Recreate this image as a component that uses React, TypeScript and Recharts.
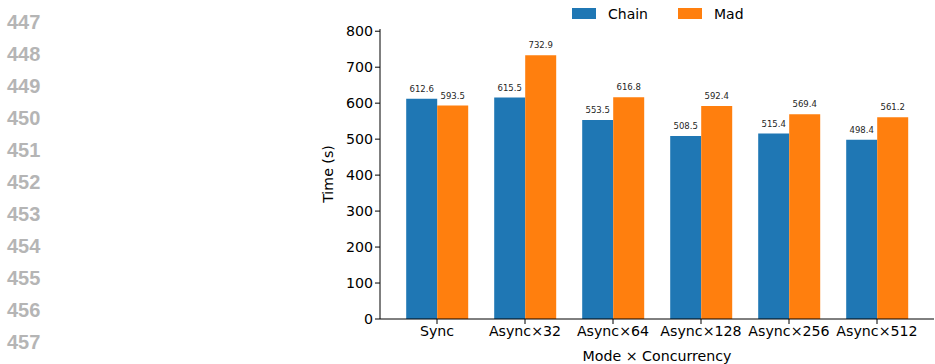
import React from "react";
import { BarChart, Bar, XAxis, YAxis, LabelList } from "recharts";

const categories = ["Sync", "Async×32", "Async×64", "Async×128", "Async×256", "Async×512"];
const chainTimes = [612.6, 615.5, 553.5, 508.5, 515.4, 498.4];
const madTimes = [593.5, 732.9, 616.8, 592.4, 569.4, 561.2];
const yTicks = [0, 100, 200, 300, 400, 500, 600, 700, 800];
const lineNumbers = [447, 448, 449, 450, 451, 452, 453, 454, 455, 456, 457];

const CHAIN_COLOR = "#1f77b4";
const MAD_COLOR = "#ff7f0e";
const FONT = "'DejaVu Sans', sans-serif";

const data = categories.map((name, i) => ({ name, chain: chainTimes[i], mad: madTimes[i] }));
const yMax = Math.max(...chainTimes, ...madTimes) * 1.1;

const legendItems = [
  { label: "Chain", color: CHAIN_COLOR },
  { label: "Mad", color: MAD_COLOR },
];

function LegendContent() {
  return (
    <div style={{ position: "absolute", left: 572, top: 0, height: 27, display: "flex", alignItems: "center", fontFamily: FONT, fontSize: 14, color: "#000" }}>
      {legendItems.map((it, i) => (
        <div key={it.label} style={{ display: "flex", alignItems: "center", marginLeft: i === 0 ? 0 : 30 }}>
          <span style={{ display: "inline-block", width: 24, height: 11, background: it.color, marginRight: 12 }} />
          <span>{it.label}</span>
        </div>
      ))}
    </div>
  );
}

const valueLabelStyle = { fontSize: 8.5, fill: "#262626", fontFamily: FONT };

export default function App() {
  return (
    <div style={{ position: "absolute", left: 0, top: 0, width: 935, height: 364, background: "#fff" }}>
      {lineNumbers.map((n, i) => (
        <div
          key={n}
          style={{
            position: "absolute",
            left: 7,
            top: 10 + i * 32,
            fontFamily: "'Liberation Sans', Arial, sans-serif",
            fontWeight: 700,
            fontSize: 20,
            lineHeight: "24px",
            color: "#b5b5b5",
          }}
        >
          {n}
        </div>
      ))}
      <div style={{ position: "absolute", left: 0, top: 0 }}>
        <BarChart
          width={935}
          height={364}
          data={data}
          margin={{ top: 29, right: 1, bottom: 0, left: 300 }}
          barCategoryGap="15%"
          barGap={0}
        >
          <XAxis
            dataKey="name"
            height={45}
            padding={{ left: 13, right: 13 }}
            tickLine={{ stroke: "#000" }}
            tickSize={5}
            axisLine={{ stroke: "#000" }}
            tick={{ fill: "#000", fontSize: 14.2, fontFamily: FONT }}
            interval={0}
            label={{ value: "Mode × Concurrency", position: "insideBottom", offset: 3, fill: "#000", fontSize: 14.2, fontFamily: FONT }}
          />
          <XAxis xAxisId="top" dataKey="name" orientation="top" height={0} tick={false} tickLine={false} axisLine={{ stroke: "#000" }} />
          <YAxis
            width={80}
            domain={[0, yMax]}
            ticks={yTicks}
            allowDataOverflow
            tickLine={{ stroke: "#000" }}
            tickSize={5}
            axisLine={{ stroke: "#000" }}
            tick={{ fill: "#000", fontSize: 14.2, fontFamily: FONT }}
            label={{ value: "Time (s)", angle: -90, position: "insideLeft", offset: 28, fill: "#000", fontSize: 14.2, fontFamily: FONT, style: { textAnchor: "middle" } }}
          />
          <YAxis yAxisId="right" orientation="right" width={0} domain={[0, yMax]} tick={false} tickLine={false} axisLine={{ stroke: "#000" }} />
          <Bar dataKey="chain" name="Chain" fill={CHAIN_COLOR} isAnimationActive={false}>
            <LabelList dataKey="chain" position="top" offset={7} style={valueLabelStyle} formatter={(v: number) => v.toFixed(1)} />
          </Bar>
          <Bar dataKey="mad" name="Mad" fill={MAD_COLOR} isAnimationActive={false}>
            <LabelList dataKey="mad" position="top" offset={7} style={valueLabelStyle} formatter={(v: number) => v.toFixed(1)} />
          </Bar>
        </BarChart>
      </div>
      <LegendContent />
    </div>
  );
}
